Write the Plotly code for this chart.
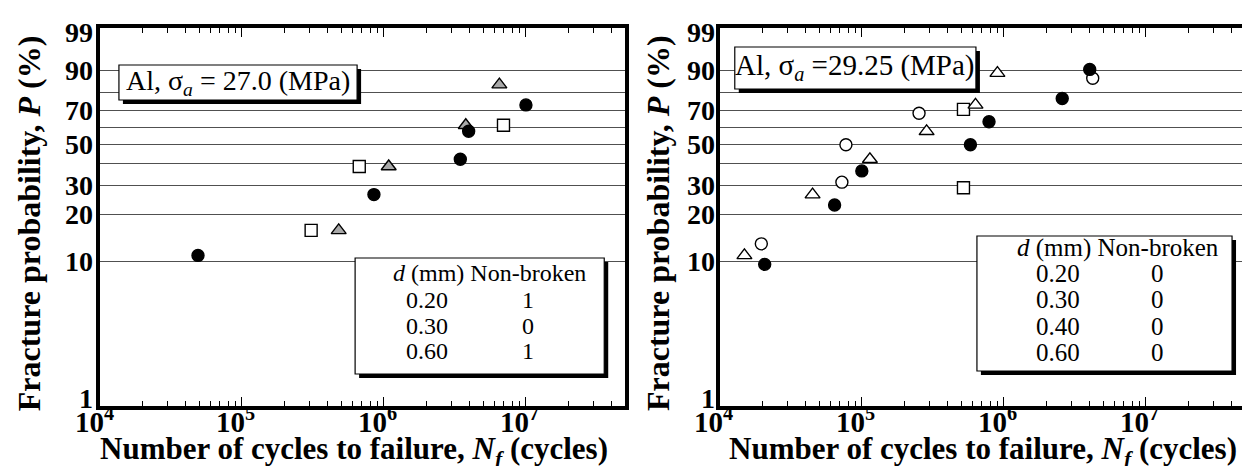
import numpy as np
import plotly.graph_objects as go

# ---------------- data ----------------
# Left panel: Al, sigma_a = 27.0 MPa
L_circ_N = [4.9e4, 8.5e5, 3.45e6, 3.95e6, 1.0e7]
L_circ_P = [10.9, 26.6, 42.2, 57.8, 73.4]
L_sq_N = [3.07e5, 6.7e5, 6.95e6]
L_sq_P = [15.9, 38.6, 61.4]
L_tri_N = [4.8e5, 1.08e6, 3.77e6, 6.5e6]
L_tri_P = [15.9, 38.6, 61.4, 84.1]

# Right panel: Al, sigma_a = 29.25 MPa
R_circ_N = [2.07e4, 6.43e4, 1.0e5, 5.82e5, 7.87e5, 2.58e6, 4.03e6]
R_circ_P = [9.5, 23.0, 36.5, 50.0, 63.5, 77.0, 90.5]
R_tri_N = [1.49e4, 4.5e4, 1.14e5, 2.86e5, 6.32e5, 9.02e5]
R_tri_P = [10.9, 26.6, 42.2, 57.8, 73.4, 89.1]
R_open_N = [1.96e4, 7.24e4, 7.73e4, 2.53e5, 4.23e6]
R_open_P = [13.0, 31.5, 50.0, 68.5, 87.0]
R_sq_N = [5.2e5, 5.2e5]
R_sq_P = [29.2, 70.8]

P_grid = [1, 10, 20, 30, 40, 50, 60, 70, 80, 90, 99]
P_ticks = [1, 10, 20, 30, 50, 70, 90, 99]
P_labels = ["1", "10", "20", "30", "50", "70", "90", "99"]
N_ticks = [1e4, 1e5, 1e6, 1e7]
N_labels = ["10<sup>4</sup>", "10<sup>5</sup>", "10<sup>6</sup>", "10<sup>7</sup>"]
N_minor = [m * 10 ** e for e in range(4, 8) for m in range(2, 10) if m * 10 ** e < 5e7]

x_title = "Number of cycles to failure, <i>N<sub>f</sub></i> (cycles)"
y_title = "Fracture probability, <i>P</i> (%)"
left_title = "Al, σ<sub><i>a</i></sub> = 27.0 (MPa)"
right_title = "Al, σ<sub><i>a</i></sub> =29.25 (MPa)"
table_head = "<i>d</i> (mm) Non-broken"
left_table = [["0.20", "1"], ["0.30", "0"], ["0.60", "1"]]
right_table = [["0.20", "0"], ["0.30", "0"], ["0.40", "0"], ["0.60", "0"]]


def weib(p):
    p = np.asarray(p, dtype=float) / 100.0
    return np.log(-np.log(1.0 - p))


FONT = "Liberation Serif"
fig = go.Figure()


def add(xs, ps, sym, fill, ax, size=12):
    fig.add_trace(go.Scatter(
        x=xs, y=weib(ps), mode="markers", xaxis=ax[0], yaxis=ax[1],
        marker=dict(symbol=sym, size=size, color=fill,
                    line=dict(color="black", width=1.4)),
        showlegend=False, hoverinfo="x+y"))


add(L_sq_N, L_sq_P, "square", "white", ("x", "y"), 12)
add(L_tri_N, L_tri_P, "triangle-up", "#a8a8a8", ("x", "y"), 13)
add(L_circ_N, L_circ_P, "circle", "black", ("x", "y"), 12)

add(R_sq_N, R_sq_P, "square", "white", ("x2", "y2"), 12)
add(R_tri_N, R_tri_P, "triangle-up", "white", ("x2", "y2"), 13)
add(R_open_N, R_open_P, "circle", "white", ("x2", "y2"), 12)
add(R_circ_N, R_circ_P, "circle", "black", ("x2", "y2"), 12)

# ---------------- layout geometry ----------------
ML, MR, MT, MB = 92, 9, 20, 68
W_FIG, H_FIG = 1250, 466
PW = W_FIG - ML - MR
AXW = 527
LX0, RX0 = ML, 714
PTOP, PBOT = MT, H_FIG - MB


def dx(px, x0):
    return (px - x0) / AXW


def dy(py):
    return (PBOT - py) / (PBOT - PTOP)


def px_paper(px):
    return (px - ML) / PW


xax = dict(type="log", range=[4, np.log10(5e7)], tickmode="array",
           tickvals=N_ticks, showticklabels=False, ticks="inside", ticklen=9,
           tickwidth=1, tickcolor="black", showline=True, linewidth=3.5,
           linecolor="black", mirror="allticks", showgrid=False, zeroline=False,
           minor=dict(tickmode="array", tickvals=N_minor, ticks="inside",
                      ticklen=5, tickwidth=1, tickcolor="black", showgrid=False))
yax = dict(range=[float(weib(1)), float(weib(99))], tickmode="array",
           tickvals=weib(P_grid), showticklabels=False, ticks="",
           showline=True, linewidth=3.5, linecolor="black", mirror=True,
           showgrid=True, gridcolor="#505050", gridwidth=1.2, zeroline=False)

fig.update_layout(
    width=W_FIG, height=H_FIG,
    margin=dict(l=ML, r=MR, t=MT, b=MB, pad=0),
    paper_bgcolor="white", plot_bgcolor="white",
    font=dict(family=FONT, color="black"),
    xaxis=dict(domain=[0, AXW / PW], anchor="y", **xax),
    xaxis2=dict(domain=[(RX0 - ML) / PW, (RX0 - ML + AXW) / PW], anchor="y2", **xax),
    yaxis=dict(domain=[0, 1], anchor="x", **yax),
    yaxis2=dict(domain=[0, 1], anchor="x2", **yax),
)

shapes = []
annots = []


def box(ax, x0, px0, px1, py0, py1, shadow=4):
    xr, yr = ax[0] + " domain", ax[1] + " domain"
    shapes.append(dict(type="rect", xref=xr, yref=yr, layer="above",
                       x0=dx(px0 + shadow, x0), x1=dx(px1 + shadow, x0),
                       y0=dy(py1 + shadow), y1=dy(py0 + shadow),
                       fillcolor="black", line=dict(width=0)))
    shapes.append(dict(type="rect", xref=xr, yref=yr, layer="above",
                       x0=dx(px0, x0), x1=dx(px1, x0), y0=dy(py1), y1=dy(py0),
                       fillcolor="white", line=dict(color="black", width=1.2)))


def text(ax, x0, px, py, s, size, xanchor="center"):
    annots.append(dict(xref=ax[0] + " domain", yref=ax[1] + " domain",
                       x=dx(px, x0), y=dy(py), text=s, showarrow=False,
                       xanchor=xanchor, yanchor="middle",
                       font=dict(family=FONT, size=size, color="black")))


def title(px, py, s, angle=0, size=31):
    annots.append(dict(xref="paper", yref="paper", x=px_paper(px), y=dy(py),
                       text=s, showarrow=False, textangle=angle,
                       xanchor="center", yanchor="middle",
                       font=dict(family=FONT, size=size, color="black", weight="bold")))


# x tick labels (10^n), placed at the tick values on each log axis
for ax in ("x", "x2"):
    for v, lab in zip(N_ticks, N_labels):
        annots.append(dict(xref=ax, yref="y domain", x=np.log10(v), y=dy(412),
                           text=lab, showarrow=False, xanchor="center",
                           yanchor="middle", xshift=-6,
                           font=dict(family=FONT, size=29, color="black",
                                     weight="bold")))

# y tick labels (probability), placed at the tick values on each axis
for xa, ya, gap in (("x", "y", -5), ("x2", "y2", -3)):
    for p, lab in zip(P_ticks, P_labels):
        shift = 8 if p == P_ticks[0] else (-4 if p == P_ticks[-1] else 0)
        annots.append(dict(xref=xa + " domain", yref=ya, x=0,
                           y=float(weib(p)), text=lab, showarrow=False,
                           xanchor="right", yanchor="middle",
                           xshift=gap, yshift=shift,
                           font=dict(family=FONT, size=28, color="black",
                                     weight="bold")))

# axis titles
title(347, 443, x_title)
title(978, 443, x_title)
title(21, 215, y_title, -90, 32)
title(652, 215, y_title, -90, 32)

# left panel boxes
box(("x", "y"), LX0, 111, 350, 57, 92)
text(("x", "y"), LX0, 230, 74, left_title, 28)
box(("x", "y"), LX0, 348, 598, 250, 366)
text(("x", "y"), LX0, 483, 265, table_head, 24)
for i, (a, b) in enumerate(left_table):
    yy = 292 + i * 25.5
    text(("x", "y"), LX0, 420, yy, a, 24)
    text(("x", "y"), LX0, 521, yy, b, 24)

# right panel boxes
box(("x2", "y2"), RX0, 729, 971, 39, 81)
text(("x2", "y2"), RX0, 850, 59, right_title, 29)
box(("x2", "y2"), RX0, 972, 1228, 228, 363)
text(("x2", "y2"), RX0, 1114, 240, table_head, 25)
for i, (a, b) in enumerate(right_table):
    yy = 265 + i * 26.5
    text(("x2", "y2"), RX0, 1053, yy, a, 25)
    text(("x2", "y2"), RX0, 1153, yy, b, 25)

fig.update_layout(shapes=shapes, annotations=annots)
fig.write_html("out.html")
